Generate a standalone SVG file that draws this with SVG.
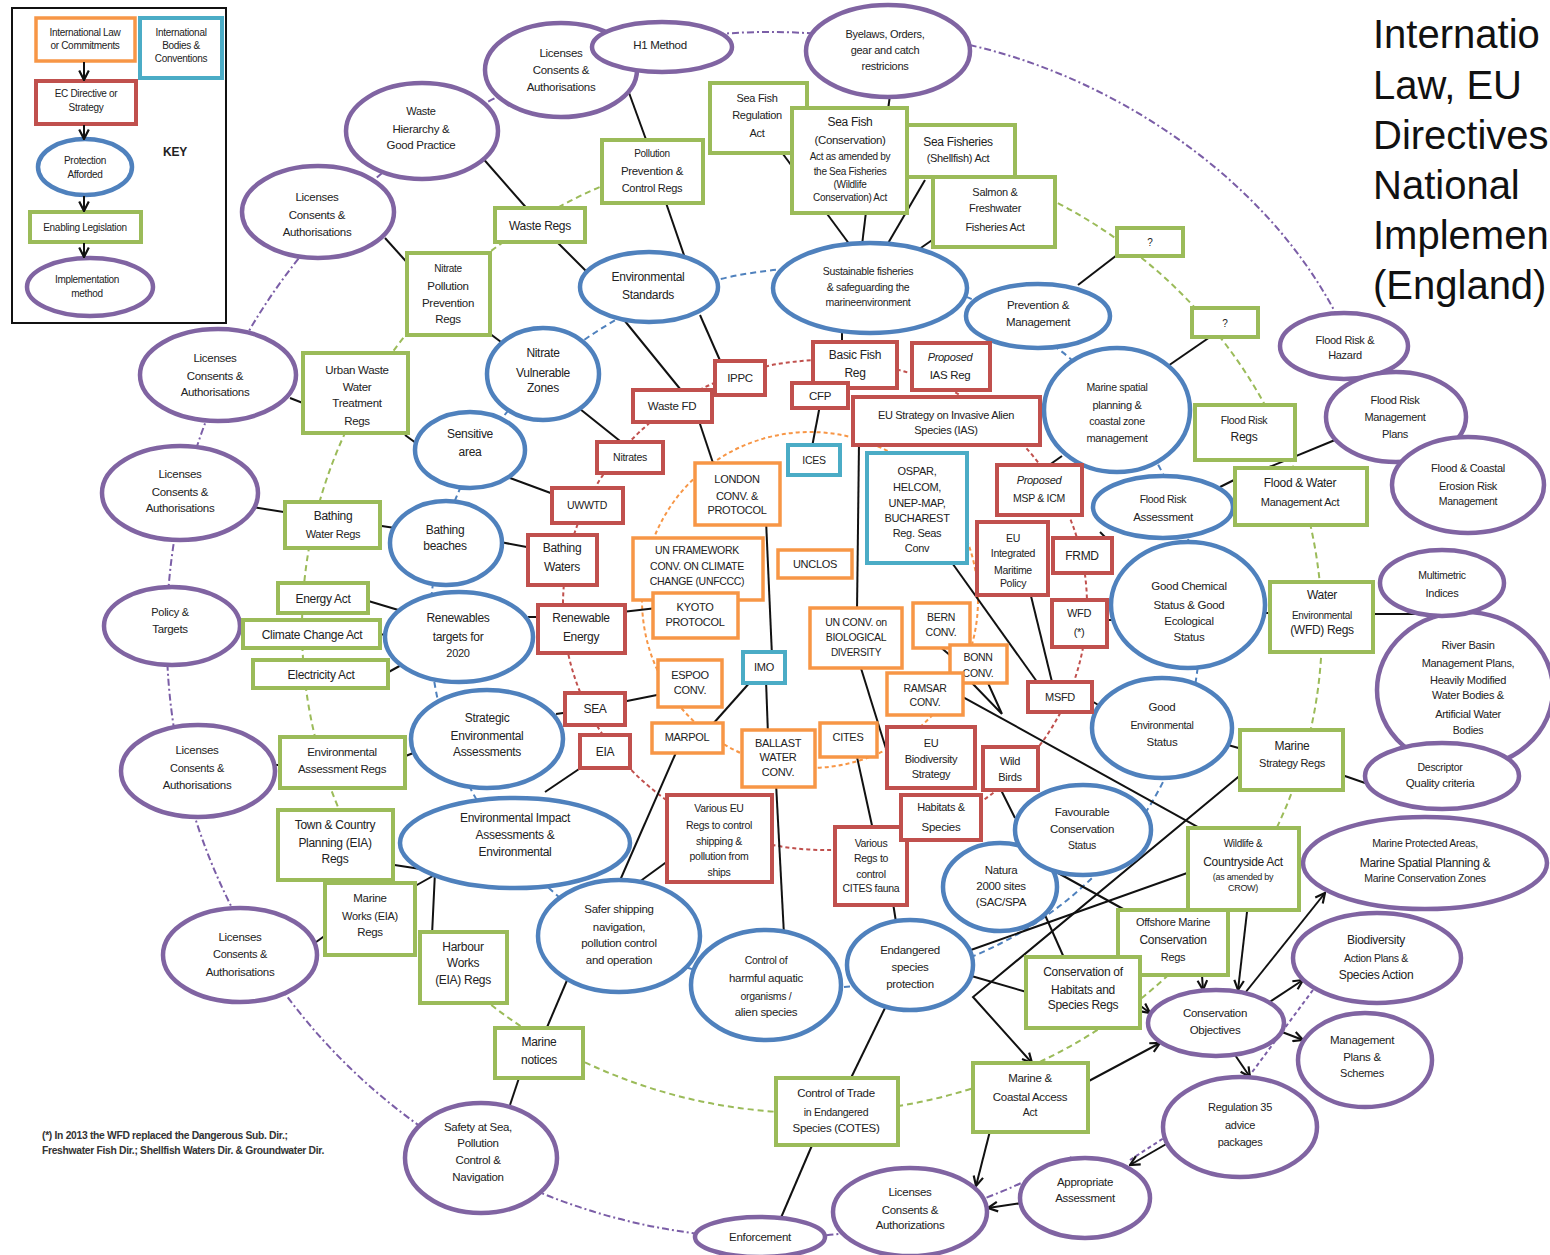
<svg xmlns="http://www.w3.org/2000/svg" width="1550" height="1255" viewBox="0 0 1550 1255">
<defs>
<style>
text{font-family:"Liberation Sans",Arial,sans-serif;font-size:12px;fill:#222;text-anchor:middle;letter-spacing:-0.3px}
.f12{font-size:12px}.f115{font-size:11.5px}.f11{font-size:11px}.f105{font-size:10.5px}.f10{font-size:10px}.f9{font-size:9px}
.pu{fill:#fff;stroke:#8064a2;stroke-width:4.5}
.bl{fill:#fff;stroke:#4f81bd;stroke-width:4.5}
.gr{fill:#fff;stroke:#9bbb59;stroke-width:4}
.rd{fill:#fff;stroke:#c0504d;stroke-width:4}
.or{fill:#fff;stroke:#f79646;stroke-width:3.5}
.cy{fill:#fff;stroke:#4bacc6;stroke-width:4}
.ln{fill:none;stroke:#111;stroke-width:2}
.ar{marker-end:url(#ah)}
.ring{fill:none;stroke-width:2}
.it{font-style:italic}
.fn{text-anchor:start;font-size:10.3px;font-weight:bold;fill:#333;letter-spacing:-0.3px}
.tt{text-anchor:start;font-size:40px;letter-spacing:0;fill:#111}
</style>
<marker id="ah" viewBox="0 0 10 10" refX="9" refY="5" markerWidth="12" markerHeight="12" markerUnits="userSpaceOnUse" orient="auto"><path d="M1,1 L9,5 L1,9" fill="none" stroke="#111" stroke-width="1.8"/></marker>
</defs>
<rect width="1550" height="1255" fill="#fff"/>

<g id="rings">
<path class="ring" d="M946.3,58.4 A603,603 0 1 0 1071.5,1157" stroke="#7b5ea7" stroke-dasharray="7 3 2 3"/>
<path class="ring" d="M955,42 C1100,70 1260,170 1335,312" stroke="#7b5ea7" stroke-dasharray="7 3 2 3"/>
<path class="ring" d="M1130,1160 L1170,1134 M1313,990 L1250,1075" stroke="#7b5ea7" stroke-dasharray="4 3"/>
<ellipse class="ring" cx="812" cy="628" rx="510" ry="485" stroke="#9bbb59" stroke-dasharray="6 4"/>
<ellipse class="ring" cx="815" cy="628" rx="385" ry="360" stroke="#4f81bd" stroke-dasharray="6 4" stroke-width="2.5"/>
<ellipse class="ring" cx="825" cy="605" rx="262" ry="245" stroke="#c0504d" stroke-dasharray="4 3"/>
<circle class="ring" cx="810" cy="600" r="168" stroke="#f79646" stroke-dasharray="4 3"/>
</g>

<g id="connectors">
<path class="ln" d="M628,90 L648,145"/>
<path class="ln" d="M480,155 L530,212"/>
<path class="ln" d="M555,240 L590,275"/>
<path class="ln" d="M665,200 L685,258"/>
<path class="ln" d="M385,238 L412,268"/>
<path class="ln" d="M485,330 L505,345"/>
<path class="ln" d="M620,315 L685,395"/>
<path class="ln" d="M700,315 L722,365"/>
<path class="ln" d="M290,398 L308,405"/>
<path class="ln" d="M405,435 L420,446"/>
<path class="ln" d="M575,405 L625,445"/>
<path class="ln" d="M510,478 L556,495"/>
<path class="ln" d="M252,507 L290,513"/>
<path class="ln" d="M375,525 L395,528"/>
<path class="ln" d="M500,542 L532,548"/>
<path class="ln" d="M365,600 L405,612"/>
<path class="ln" d="M375,634 L390,635"/>
<path class="ln" d="M385,674 L405,663"/>
<path class="ln" d="M236,632 L248,633"/>
<path class="ln" d="M528,617 L542,617"/>
<path class="ln" d="M622,612 L657,608"/>
<path class="ln" d="M556,714 L570,712"/>
<path class="ln" d="M622,702 L662,694"/>
<path class="ln" d="M545,792 L585,765"/>
<path class="ln" d="M403,757 L416,752"/>
<path class="ln" d="M375,862 L440,872 M408,890 L440,872 M432,935 L435,872"/>
<path class="ln" d="M312,945 L330,932"/>
<path class="ln" d="M270,765 L285,765"/>
<path class="ln" d="M678,748 L618,885"/>
<path class="ln" d="M672,858 L635,885"/>
<path class="ln" d="M568,978 L545,1032"/>
<path class="ln" d="M520,1075 L510,1105"/>
<path class="ln" d="M752,680 L712,725"/>
<path class="ln" d="M766,680 L768,735"/>
<path class="ln" d="M766,520 L772,656"/>
<path class="ln" d="M698,418 L714,466"/>
<path class="ln" d="M776,783 L784,935"/>
<path class="ln" d="M820,405 L812,447"/>
<path class="ln" d="M842,330 L842,345"/>
<path class="ln" d="M859,442 L857,612"/>
<path class="ln" d="M860,665 L887,752"/>
<path class="ln" d="M950,560 L1040,686"/>
<path class="ln" d="M1030,592 L1053,686"/>
<path class="ln" d="M938,645 L952,657"/>
<path class="ln" d="M963,697 L1207,832"/>
<path class="ln" d="M972,683 L1002,714 M988,683 L1002,714"/>
<path class="ln" d="M1000,788 L1015,818"/>
<path class="ln" d="M1045,915 L1065,960"/>
<path class="ln" d="M1058,873 L1125,910"/>
<path class="ln" d="M968,975 L1030,993"/>
<path class="ln ar" d="M1243,773 L973,997 L1032,1063"/>
<path class="ln" d="M968,951 L1190,872"/>
<path class="ln" d="M885,1008 L850,1080"/>
<path class="ln" d="M813,1143 L780,1220"/>
<path class="ln" d="M893,903 L896,922"/>
<path class="ln" d="M857,757 L873,830"/>
<path class="ln ar" d="M990,1131 L976,1186"/>
<path class="ln ar" d="M1022,1203 L988,1208"/>
<path class="ln ar" d="M1087,1082 L1160,1043"/>
<path class="ln ar" d="M1168,1143 L1130,1165"/>
<path class="ln ar" d="M1235,1055 L1250,1077"/>
<path class="ln ar" d="M1282,1032 L1303,1040"/>
<path class="ln ar" d="M1268,1003 L1303,980"/>
<path class="ln ar" d="M1245,993 L1325,893"/>
<path class="ln ar" d="M1247,912 L1238,990"/>
<path class="ln ar" d="M1202,975 L1203,990"/>
<path class="ln ar" d="M1138,1004 L1150,1013"/>
<path class="ln" d="M1117,255 L1078,285"/>
<path class="ln" d="M1210,337 L1165,368"/>
<path class="ln" d="M1238,478 L1220,487"/>
<path class="ln" d="M1335,440 L1262,470"/>
<path class="ln" d="M1045,468 L1062,456"/>
<path class="ln" d="M1100,532 L1108,540"/>
<path class="ln" d="M1104,620 L1115,620"/>
<path class="ln" d="M1262,613 L1272,613"/>
<path class="ln" d="M1372,614 L1420,614"/>
<path class="ln" d="M1090,700 L1100,706"/>
<path class="ln" d="M1228,745 L1242,749"/>
<path class="ln" d="M1342,775 L1368,784"/>
<path class="ln" d="M780,150 L850,245"/>
<path class="ln" d="M866,212 L862,245"/>
<path class="ln" d="M925,180 L887,245"/>
<path class="ln" d="M938,236 L915,252"/>
<path class="ln" d="M890,95 L888,110"/>
</g>

<g id="key">
<rect x="12" y="8" width="214" height="315" fill="#fff" stroke="#111" stroke-width="2"/>
<g id="k-intl"><rect class="or" x="36" y="18" width="99" height="43"/><text class="f10" x="85" y="36">International Law</text><text class="f10" x="85" y="49">or Commitments</text></g>
<g id="k-bodies"><rect class="cy" x="140" y="18" width="82" height="60"/><text class="f10" x="181" y="36">International</text><text class="f10" x="181" y="49">Bodies &amp;</text><text class="f10" x="181" y="62">Conventions</text></g>
<g id="k-ec"><rect class="rd" x="36" y="81" width="100" height="43"/><text class="f10" x="86" y="97">EC Directive or</text><text class="f10" x="86" y="111">Strategy</text></g>
<g id="k-prot"><ellipse class="bl" cx="85" cy="167" rx="47" ry="28"/><text class="f10" x="85" y="164">Protection</text><text class="f10" x="85" y="178">Afforded</text></g>
<g id="k-enab"><rect class="gr" x="30" y="212" width="111" height="30"/><text class="f10" x="85" y="231">Enabling Legislation</text></g>
<g id="k-impl"><ellipse class="pu" cx="90" cy="287" rx="63" ry="29"/><text class="f10" x="87" y="283">Implementation</text><text class="f10" x="87" y="297">method</text></g>
<path class="ln ar" d="M84,62 L84,80"/>
<path class="ln ar" d="M84,125 L84,139"/>
<path class="ln ar" d="M84,196 L84,211"/>
<path class="ln ar" d="M84,243 L84,257"/>
<text x="175" y="156" style="font-weight:bold;font-size:12px">KEY</text>
</g>

<g id="title">
<text class="tt" x="1373" y="48">Internatio</text>
<text class="tt" x="1373" y="99">Law, EU</text>
<text class="tt" x="1373" y="149">Directives</text>
<text class="tt" x="1373" y="199">National</text>
<text class="tt" x="1373" y="249">Implemen</text>
<text class="tt" x="1373" y="299">(England)</text>
</g>

<g id="footnote">
<text class="fn" x="42" y="1139">(*)  In 2013 the WFD replaced the Dangerous Sub. Dir.;</text>
<text class="fn" x="42" y="1154">Freshwater Fish Dir.; Shellfish Waters Dir. &amp; Groundwater Dir.</text>
</g>

<g id="n-lic1"><ellipse class="pu" cx="561" cy="70" rx="76" ry="47"/><text class="f115" x="561" y="57">Licenses</text><text class="f115" x="561" y="74">Consents &amp;</text><text class="f115" x="561" y="91">Authorisations</text></g>
<g id="n-h1"><ellipse class="pu" cx="662" cy="47" rx="70" ry="25"/><text class="f115" x="660" y="49">H1 Method</text></g>
<g id="n-byelaws"><ellipse class="pu" cx="888" cy="51" rx="82" ry="46"/><text class="f11" x="885" y="38">Byelaws, Orders,</text><text class="f11" x="885" y="54">gear and catch</text><text class="f11" x="885" y="70">restricions</text></g>
<g id="n-wastehier"><ellipse class="pu" cx="422" cy="131" rx="76" ry="48"/><text class="f11" x="421" y="115">Waste</text><text class="f115" x="421" y="133">Hierarchy &amp;</text><text class="f115" x="421" y="149">Good Practice</text></g>
<g id="n-lic2"><ellipse class="pu" cx="318" cy="212" rx="76" ry="46"/><text class="f115" x="317" y="201">Licenses</text><text class="f115" x="317" y="219">Consents &amp;</text><text class="f115" x="317" y="236">Authorisations</text></g>
<g id="n-lic3"><ellipse class="pu" cx="218" cy="375" rx="78" ry="46"/><text class="f115" x="215" y="362">Licenses</text><text class="f115" x="215" y="380">Consents &amp;</text><text class="f115" x="215" y="396">Authorisations</text></g>
<g id="n-lic4"><ellipse class="pu" cx="180" cy="493" rx="78" ry="47"/><text class="f115" x="180" y="478">Licenses</text><text class="f115" x="180" y="496">Consents &amp;</text><text class="f115" x="180" y="512">Authorisations</text></g>
<g id="n-policy"><ellipse class="pu" cx="172" cy="626" rx="68" ry="39"/><text class="f11" x="170" y="616">Policy &amp;</text><text class="f115" x="170" y="633">Targets</text></g>
<g id="n-lic5"><ellipse class="pu" cx="198" cy="771" rx="77" ry="46"/><text class="f115" x="197" y="754">Licenses</text><text class="f11" x="197" y="772">Consents &amp;</text><text class="f115" x="197" y="789">Authorisations</text></g>
<g id="n-lic6"><ellipse class="pu" cx="240" cy="955" rx="77" ry="47"/><text class="f115" x="240" y="941">Licenses</text><text class="f11" x="240" y="958">Consents &amp;</text><text class="f115" x="240" y="976">Authorisations</text></g>
<g id="n-safety"><ellipse class="pu" cx="481" cy="1158" rx="76" ry="55"/><text class="f115" x="478" y="1131">Safety at Sea,</text><text class="f115" x="478" y="1147">Pollution</text><text class="f115" x="478" y="1164">Control &amp;</text><text class="f115" x="478" y="1181">Navigation</text></g>
<g id="n-enforce"><ellipse class="pu" cx="760" cy="1237" rx="65" ry="20"/><text class="f115" x="760" y="1241">Enforcement</text></g>
<g id="n-lic7"><ellipse class="pu" cx="910" cy="1212" rx="77" ry="44"/><text class="f115" x="910" y="1196">Licenses</text><text class="f115" x="910" y="1214">Consents &amp;</text><text class="f115" x="910" y="1229">Authorizations</text></g>
<g id="n-approp"><ellipse class="pu" cx="1085" cy="1198" rx="65" ry="40"/><text class="f115" x="1085" y="1186">Appropriate</text><text class="f115" x="1085" y="1202">Assessment</text></g>
<g id="n-reg35"><ellipse class="pu" cx="1240" cy="1127" rx="77" ry="50"/><text class="f11" x="1240" y="1111">Regulation 35</text><text class="f11" x="1240" y="1129">advice</text><text class="f11" x="1240" y="1146">packages</text></g>
<g id="n-mgmt"><ellipse class="pu" cx="1365" cy="1060" rx="67" ry="47"/><text class="f115" x="1362" y="1044">Management</text><text class="f115" x="1362" y="1061">Plans &amp;</text><text class="f11" x="1362" y="1077">Schemes</text></g>
<g id="n-mpa"><ellipse class="pu" cx="1425" cy="863" rx="122" ry="46"/><text class="f105" x="1425" y="847">Marine Protected Areas,</text><text class="f12" x="1425" y="867">Marine Spatial Planning &amp;</text><text class="f105" x="1425" y="882">Marine Conservation Zones</text></g>
<g id="n-biodiv"><ellipse class="pu" cx="1377" cy="958" rx="84" ry="45"/><text class="f12" x="1376" y="944">Biodiversity</text><text class="f105" x="1376" y="962">Action Plans &amp;</text><text class="f12" x="1376" y="979">Species Action</text></g>
<g id="n-consobj"><ellipse class="pu" cx="1216" cy="1023" rx="68" ry="33"/><text class="f115" x="1215" y="1017">Conservation</text><text class="f115" x="1215" y="1034">Objectives</text></g>
<g id="n-frh"><ellipse class="pu" cx="1344" cy="346" rx="64" ry="33"/><text class="f11" x="1345" y="344">Flood Risk &amp;</text><text class="f11" x="1345" y="359">Hazard</text></g>
<g id="n-frmp"><ellipse class="pu" cx="1396" cy="417" rx="70" ry="45"/><text class="f11" x="1395" y="404">Flood Risk</text><text class="f11" x="1395" y="421">Management</text><text class="f11" x="1395" y="438">Plans</text></g>
<g id="n-fcerm"><ellipse class="pu" cx="1468" cy="485" rx="76" ry="48"/><text class="f11" x="1468" y="472">Flood &amp; Coastal</text><text class="f11" x="1468" y="490">Erosion Risk</text><text class="f105" x="1468" y="505">Management</text></g>
<g id="n-river"><ellipse class="pu" cx="1465" cy="690" rx="88" ry="78"/><text class="f11" x="1468" y="649">River Basin</text><text class="f11" x="1468" y="667">Management Plans,</text><text class="f11" x="1468" y="684">Heavily Modified</text><text class="f11" x="1468" y="699">Water Bodies &amp;</text><text class="f11" x="1468" y="718">Artificial Water</text><text class="f105" x="1468" y="734">Bodies</text></g>
<g id="n-multi"><ellipse class="pu" cx="1442" cy="583" rx="62" ry="33"/><text class="f105" x="1442" y="579">Multimetric</text><text class="f11" x="1442" y="597">Indices</text></g>
<g id="n-descr"><ellipse class="pu" cx="1442" cy="776" rx="77" ry="33"/><text class="f105" x="1440" y="771">Descriptor</text><text class="f115" x="1440" y="787">Quality criteria</text></g>

<g id="n-envstd"><ellipse class="bl" cx="649" cy="287" rx="69" ry="35"/><text x="648" y="281">Environmental</text><text x="648" y="299">Standards</text></g>
<g id="n-sustfish"><ellipse class="bl" cx="870" cy="288" rx="97" ry="45"/><text class="f105" x="868" y="275">Sustainable  fisheries</text><text class="f105" x="868" y="291">&amp; safeguarding  the</text><text class="f105" x="868" y="306">marineenvironment</text></g>
<g id="n-prev"><ellipse class="bl" cx="1038" cy="316" rx="72" ry="32"/><text class="f115" x="1038" y="309">Prevention &amp;</text><text class="f115" x="1038" y="326">Management</text></g>
<g id="n-msp"><ellipse class="bl" cx="1117" cy="410" rx="73" ry="62"/><text class="f105" x="1117" y="391">Marine spatial</text><text class="f11" x="1117" y="409">planning &amp;</text><text class="f105" x="1117" y="425">coastal zone</text><text class="f11" x="1117" y="442">management</text></g>
<g id="n-fra"><ellipse class="bl" cx="1163" cy="507" rx="70" ry="31"/><text class="f105" x="1163" y="503">Flood Risk</text><text class="f115" x="1163" y="521">Assessment</text></g>
<g id="n-goodchem"><ellipse class="bl" cx="1188" cy="605" rx="77" ry="63"/><text class="f115" x="1189" y="590">Good Chemical</text><text class="f115" x="1189" y="609">Status &amp; Good</text><text class="f115" x="1189" y="625">Ecological</text><text class="f115" x="1189" y="641">Status</text></g>
<g id="n-goodenv"><ellipse class="bl" cx="1162" cy="728" rx="70" ry="50"/><text class="f115" x="1162" y="711">Good</text><text class="f105" x="1162" y="729">Environmental</text><text class="f115" x="1162" y="746">Status</text></g>
<g id="n-natura"><ellipse class="bl" cx="1000" cy="887" rx="57" ry="44"/><text class="f115" x="1001" y="874">Natura</text><text class="f115" x="1001" y="890">2000 sites</text><text class="f115" x="1001" y="906">(SAC/SPA</text></g>
<g id="n-favour"><ellipse class="bl" cx="1083" cy="830" rx="68" ry="45"/><text class="f115" x="1082" y="816">Favourable</text><text class="f115" x="1082" y="833">Conservation</text><text class="f105" x="1082" y="849">Status</text></g>
<g id="n-endang"><ellipse class="bl" cx="910" cy="965" rx="63" ry="45"/><text class="f115" x="910" y="954">Endangered</text><text class="f115" x="910" y="971">species</text><text class="f115" x="910" y="988">protection</text></g>
<g id="n-harmful"><ellipse class="bl" cx="766" cy="985" rx="75" ry="55"/><text class="f105" x="766" y="964">Control of</text><text class="f115" x="766" y="982">harmful aquatic</text><text class="f105" x="766" y="1000">organisms /</text><text class="f115" x="766" y="1016">alien species</text></g>
<g id="n-envimpact"><ellipse class="bl" cx="515" cy="843" rx="115" ry="45"/><text x="515" y="822">Environmental Impact</text><text x="515" y="839">Assessments &amp;</text><text x="515" y="856">Environmental</text></g>
<g id="n-safer"><ellipse class="bl" cx="619" cy="936" rx="81" ry="56"/><text class="f115" x="619" y="913">Safer shipping</text><text class="f115" x="619" y="931">navigation,</text><text class="f115" x="619" y="947">pollution  control</text><text class="f115" x="619" y="964">and operation</text></g>
<g id="n-strategic"><ellipse class="bl" cx="487" cy="739" rx="76" ry="49"/><text x="487" y="722">Strategic</text><text x="487" y="740">Environmental</text><text x="487" y="756">Assessments</text></g>
<g id="n-renew"><ellipse class="bl" cx="459" cy="637" rx="74" ry="45"/><text x="458" y="622">Renewables</text><text x="458" y="641">targets for</text><text class="f11" x="458" y="657">2020</text></g>
<g id="n-bathbeach"><ellipse class="bl" cx="446" cy="543" rx="56" ry="42"/><text x="445" y="534">Bathing</text><text x="445" y="550">beaches</text></g>
<g id="n-sensitive"><ellipse class="bl" cx="470" cy="450" rx="55" ry="38"/><text x="470" y="438">Sensitive</text><text x="470" y="456">area</text></g>
<g id="n-nvz"><ellipse class="bl" cx="543" cy="374" rx="56" ry="46"/><text x="543" y="357">Nitrate</text><text x="543" y="377">Vulnerable</text><text x="543" y="392">Zones</text></g>

<g id="n-ppc"><rect class="gr" x="602" y="140" width="101" height="63"/><text class="f10" x="652" y="157">Pollution</text><text class="f115" x="652" y="175">Prevention &amp;</text><text class="f11" x="652" y="192">Control Regs</text></g>
<g id="n-seafishreg"><rect class="gr" x="710" y="83" width="97" height="70"/><text class="f11" x="757" y="102">Sea Fish</text><text class="f11" x="757" y="119">Regulation</text><text class="f11" x="757" y="137">Act</text></g>
<g id="n-seafishcons"><rect class="gr" x="792" y="108" width="115" height="105"/><text class="f12" x="850" y="126">Sea Fish</text><text class="f115" x="850" y="144">(Conservation)</text><text class="f10" x="850" y="160">Act as amended by</text><text class="f10" x="850" y="175">the Sea Fisheries</text><text class="f10" x="850" y="188">(Wildlife</text><text class="f10" x="850" y="201">Conservation) Act</text></g>
<g id="n-shellfish"><rect class="gr" x="907" y="125" width="108" height="52"/><text class="f12" x="958" y="146">Sea Fisheries</text><text class="f11" x="958" y="162">(Shellfish)  Act</text></g>
<g id="n-salmon"><rect class="gr" x="933" y="177" width="122" height="70"/><text class="f11" x="995" y="196">Salmon &amp;</text><text class="f11" x="995" y="212">Freshwater</text><text class="f11" x="995" y="231">Fisheries Act</text></g>
<g id="n-q1"><rect class="gr" x="1117" y="228" width="66" height="28"/><text class="f10" x="1150" y="246">?</text></g>
<g id="n-q2"><rect class="gr" x="1192" y="308" width="66" height="29"/><text class="f10" x="1225" y="327">?</text></g>
<g id="n-frregs"><rect class="gr" x="1195" y="405" width="100" height="55"/><text class="f105" x="1244" y="424">Flood Risk</text><text class="f12" x="1244" y="441">Regs</text></g>
<g id="n-fwma"><rect class="gr" x="1235" y="468" width="132" height="57"/><text class="f12" x="1300" y="487">Flood &amp; Water</text><text class="f11" x="1300" y="506">Management Act</text></g>
<g id="n-wfdregs"><rect class="gr" x="1270" y="582" width="103" height="70"/><text class="f12" x="1322" y="599">Water</text><text class="f10" x="1322" y="619">Environmental</text><text class="f12" x="1322" y="634">(WFD) Regs</text></g>
<g id="n-msregs"><rect class="gr" x="1240" y="730" width="103" height="60"/><text class="f12" x="1292" y="750">Marine</text><text class="f11" x="1292" y="767">Strategy Regs</text></g>
<g id="n-wildlife"><rect class="gr" x="1188" y="828" width="111" height="82"/><text class="f10" x="1243" y="847">Wildlife  &amp;</text><text class="f12" x="1243" y="866">Countryside Act</text><text class="f9" x="1243" y="880">(as amended by</text><text class="f9" x="1243" y="891">CROW)</text></g>
<g id="n-offshore"><rect class="gr" x="1118" y="910" width="110" height="65"/><text class="f11" x="1173" y="926">Offshore Marine</text><text class="f12" x="1173" y="944">Conservation</text><text class="f11" x="1173" y="961">Regs</text></g>
<g id="n-habregs"><rect class="gr" x="1026" y="957" width="114" height="71"/><text class="f12" x="1083" y="976">Conservation of</text><text class="f12" x="1083" y="994">Habitats and</text><text class="f12" x="1083" y="1009">Species Regs</text></g>
<g id="n-mcaa"><rect class="gr" x="973" y="1063" width="115" height="69"/><text class="f115" x="1030" y="1082">Marine &amp;</text><text class="f115" x="1030" y="1101">Coastal Access</text><text class="f105" x="1030" y="1116">Act</text></g>
<g id="n-cotes"><rect class="gr" x="776" y="1078" width="122" height="67"/><text class="f115" x="836" y="1097">Control of Trade</text><text class="f105" x="836" y="1116">in Endangered</text><text class="f115" x="836" y="1132">Species (COTES)</text></g>
<g id="n-marnotices"><rect class="gr" x="495" y="1028" width="88" height="50"/><text x="539" y="1046">Marine</text><text x="539" y="1064">notices</text></g>
<g id="n-harbour"><rect class="gr" x="420" y="932" width="87" height="71"/><text x="463" y="951">Harbour</text><text x="463" y="967">Works</text><text x="463" y="984">(EIA) Regs</text></g>
<g id="n-marworks"><rect class="gr" x="325" y="883" width="90" height="72"/><text class="f115" x="370" y="902">Marine</text><text class="f11" x="370" y="920">Works (EIA)</text><text class="f115" x="370" y="936">Regs</text></g>
<g id="n-tcp"><rect class="gr" x="278" y="810" width="115" height="70"/><text x="335" y="829">Town &amp; Country</text><text x="335" y="847">Planning  (EIA)</text><text x="335" y="863">Regs</text></g>
<g id="n-earegs"><rect class="gr" x="280" y="737" width="125" height="51"/><text class="f115" x="342" y="756">Environmental</text><text class="f115" x="342" y="773">Assessment  Regs</text></g>
<g id="n-elec"><rect class="gr" x="253" y="660" width="135" height="28"/><text x="321" y="679">Electricity Act</text></g>
<g id="n-climate"><rect class="gr" x="243" y="620" width="137" height="28"/><text x="312" y="639">Climate Change Act</text></g>
<g id="n-energy"><rect class="gr" x="278" y="583" width="90" height="30"/><text x="323" y="603">Energy Act</text></g>
<g id="n-bwregs"><rect class="gr" x="285" y="502" width="95" height="46"/><text x="333" y="520">Bathing</text><text class="f11" x="333" y="538">Water Regs</text></g>
<g id="n-uwwregs"><rect class="gr" x="303" y="353" width="105" height="80"/><text class="f115" x="357" y="374">Urban Waste</text><text class="f115" x="357" y="391">Water</text><text class="f115" x="357" y="407">Treatment</text><text class="f115" x="357" y="425">Regs</text></g>
<g id="n-nppr"><rect class="gr" x="407" y="253" width="83" height="82"/><text class="f10" x="448" y="272">Nitrate</text><text class="f115" x="448" y="290">Pollution</text><text class="f115" x="448" y="307">Prevention</text><text class="f115" x="448" y="323">Regs</text></g>
<g id="n-wasteregs"><rect class="gr" x="495" y="208" width="90" height="34"/><text x="540" y="230">Waste Regs</text></g>

<g id="n-ippc"><rect class="rd" x="715" y="361" width="50" height="34"/><text class="f115" x="740" y="382">IPPC</text></g>
<g id="n-wastefd"><rect class="rd" x="633" y="390" width="79" height="32"/><text class="f115" x="672" y="410">Waste FD</text></g>
<g id="n-nitrates"><rect class="rd" x="597" y="442" width="66" height="31"/><text class="f105" x="630" y="461">Nitrates</text></g>
<g id="n-uwwtd"><rect class="rd" x="552" y="488" width="71" height="35"/><text class="f105" x="587" y="509">UWWTD</text></g>
<g id="n-bathwaters"><rect class="rd" x="528" y="535" width="69" height="50"/><text x="562" y="552">Bathing</text><text x="562" y="571">Waters</text></g>
<g id="n-renewen"><rect class="rd" x="538" y="605" width="87" height="48"/><text x="581" y="622">Renewable</text><text x="581" y="641">Energy</text></g>
<g id="n-sea"><rect class="rd" x="565" y="693" width="60" height="32"/><text x="595" y="713">SEA</text></g>
<g id="n-eia"><rect class="rd" x="580" y="735" width="50" height="33"/><text x="605" y="756">EIA</text></g>
<g id="n-varioseu"><rect class="rd" x="667" y="795" width="105" height="87"/><text class="f105" x="719" y="812">Various EU</text><text class="f105" x="719" y="829">Regs to control</text><text class="f105" x="719" y="845">shipping &amp;</text><text class="f105" x="719" y="860">pollution from</text><text class="f105" x="719" y="876">ships</text></g>
<g id="n-variouscites"><rect class="rd" x="835" y="827" width="72" height="78"/><text class="f105" x="871" y="847">Various</text><text class="f105" x="871" y="862">Regs to</text><text class="f105" x="871" y="878">control</text><text class="f105" x="871" y="892">CITES fauna</text></g>
<g id="n-habitats"><rect class="rd" x="901" y="795" width="80" height="45"/><text class="f11" x="941" y="811">Habitats &amp;</text><text class="f115" x="941" y="831">Species</text></g>
<g id="n-eubiodiv"><rect class="rd" x="887" y="727" width="88" height="61"/><text class="f11" x="931" y="747">EU</text><text class="f11" x="931" y="763">Biodiversity</text><text class="f11" x="931" y="778">Strategy</text></g>
<g id="n-wildbirds"><rect class="rd" x="983" y="747" width="55" height="43"/><text class="f11" x="1010" y="765">Wild</text><text class="f11" x="1010" y="781">Birds</text></g>
<g id="n-msfd"><rect class="rd" x="1028" y="682" width="64" height="30"/><text class="f11" x="1060" y="701">MSFD</text></g>
<g id="n-wfd"><rect class="rd" x="1052" y="600" width="55" height="47"/><text class="f11" x="1079" y="617">WFD</text><text class="f11" x="1079" y="636">(*)</text></g>
<g id="n-frmd"><rect class="rd" x="1053" y="538" width="59" height="35"/><text class="f12" x="1082" y="560">FRMD</text></g>
<g id="n-euimp"><rect class="rd" x="977" y="522" width="71" height="73"/><text class="f105" x="1013" y="542">EU</text><text class="f105" x="1013" y="557">Integrated</text><text class="f105" x="1013" y="574">Maritime</text><text class="f105" x="1013" y="587">Policy</text></g>
<g id="n-propmsp"><rect class="rd" x="997" y="465" width="85" height="50"/><text class="f11 it" x="1039" y="484">Proposed</text><text class="f105" x="1039" y="502">MSP &amp; ICM</text></g>
<g id="n-euias"><rect class="rd" x="853" y="397" width="187" height="48"/><text class="f11" x="946" y="419">EU Strategy on Invasive Alien</text><text class="f11" x="946" y="434">Species (IAS)</text></g>
<g id="n-propias"><rect class="rd" x="912" y="343" width="78" height="47"/><text class="f11 it" x="950" y="361">Proposed</text><text class="f115" x="950" y="379">IAS Reg</text></g>
<g id="n-basicfish"><rect class="rd" x="813" y="342" width="84" height="46"/><text x="855" y="359">Basic Fish</text><text x="855" y="377">Reg</text></g>
<g id="n-cfp"><rect class="rd" x="792" y="383" width="56" height="25"/><text class="f115" x="820" y="400">CFP</text></g>

<g id="n-london"><rect class="or" x="695" y="463" width="85" height="62"/><text class="f11" x="737" y="483">LONDON</text><text class="f11" x="737" y="500">CONV. &amp;</text><text class="f11" x="737" y="514">PROTOCOL</text></g>
<g id="n-unfccc"><rect class="or" x="633" y="538" width="130" height="62"/><text class="f105" x="697" y="554">UN FRAMEWORK</text><text class="f105" x="697" y="570">CONV. ON CLIMATE</text><text class="f105" x="697" y="585">CHANGE (UNFCCC)</text></g>
<g id="n-kyoto"><rect class="or" x="653" y="593" width="85" height="45"/><text class="f11" x="695" y="611">KYOTO</text><text class="f11" x="695" y="626">PROTOCOL</text></g>
<g id="n-espoo"><rect class="or" x="658" y="660" width="64" height="47"/><text class="f11" x="690" y="679">ESPOO</text><text class="f11" x="690" y="694">CONV.</text></g>
<g id="n-marpol"><rect class="or" x="652" y="723" width="71" height="30"/><text class="f11" x="687" y="741">MARPOL</text></g>
<g id="n-ballast"><rect class="or" x="742" y="730" width="73" height="57"/><text class="f11" x="778" y="747">BALLAST</text><text class="f11" x="778" y="761">WATER</text><text class="f11" x="778" y="776">CONV.</text></g>
<g id="n-cites"><rect class="or" x="820" y="723" width="57" height="34"/><text class="f11" x="848" y="741">CITES</text></g>
<g id="n-uncbd"><rect class="or" x="810" y="608" width="92" height="60"/><text class="f105" x="856" y="626">UN CONV. on</text><text class="f105" x="856" y="641">BIOLOGICAL</text><text class="f10" x="856" y="656">DIVERSITY</text></g>
<g id="n-unclos"><rect class="or" x="778" y="550" width="74" height="28"/><text class="f11" x="815" y="568">UNCLOS</text></g>
<g id="n-bern"><rect class="or" x="913" y="603" width="57" height="45"/><text class="f105" x="941" y="621">BERN</text><text class="f105" x="941" y="636">CONV.</text></g>
<g id="n-bonn"><rect class="or" x="950" y="645" width="57" height="38"/><text class="f105" x="978" y="661">BONN</text><text class="f105" x="978" y="677">CONV.</text></g>
<g id="n-ramsar"><rect class="or" x="887" y="673" width="76" height="42"/><text class="f105" x="925" y="692">RAMSAR</text><text class="f105" x="925" y="706">CONV.</text></g>

<g id="n-ices"><rect class="cy" x="788" y="445" width="52" height="30"/><text class="f105" x="814" y="464">ICES</text></g>
<g id="n-ospar"><rect class="cy" x="867" y="453" width="100" height="110"/><text class="f11" x="917" y="475">OSPAR,</text><text class="f11" x="917" y="491">HELCOM,</text><text class="f11" x="917" y="507">UNEP-MAP,</text><text class="f11" x="917" y="522">BUCHAREST</text><text class="f11" x="917" y="537">Reg. Seas</text><text class="f11" x="917" y="552">Conv</text></g>
<g id="n-imo"><rect class="cy" x="743" y="652" width="42" height="31"/><text class="f11" x="764" y="671">IMO</text></g>
</svg>
